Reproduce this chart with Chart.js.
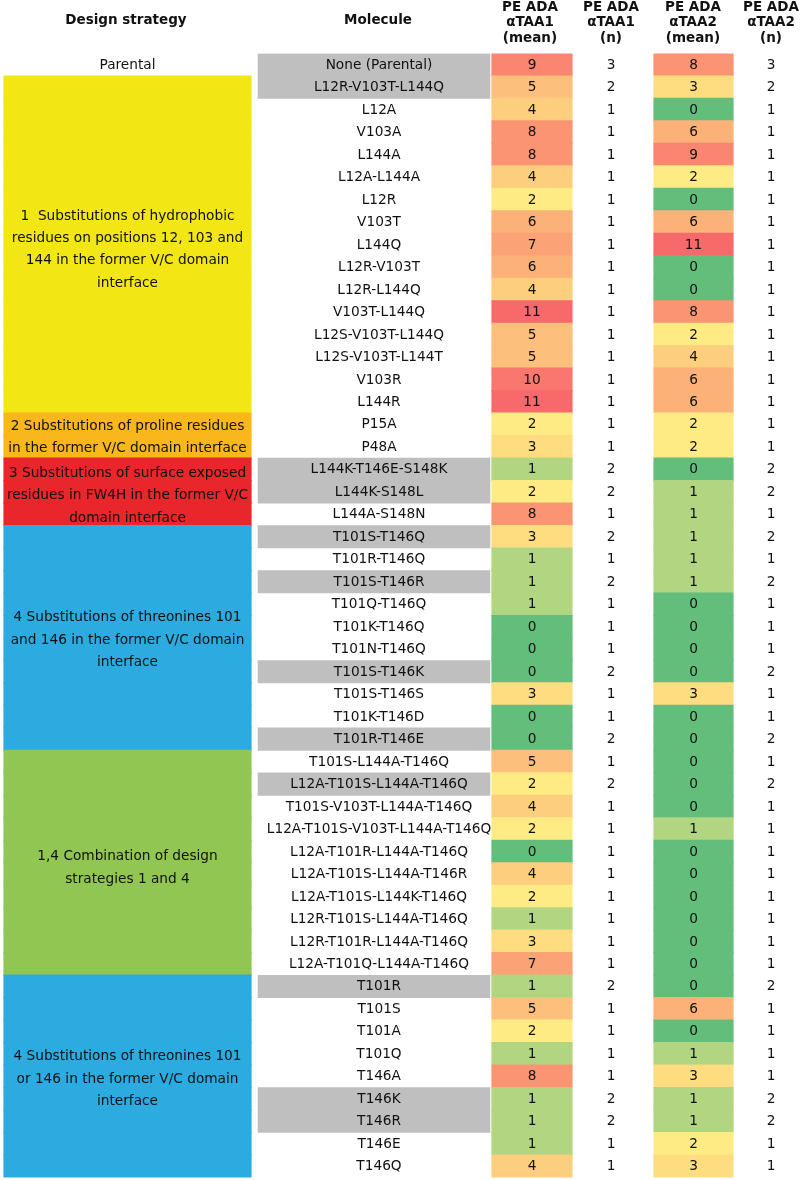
<!DOCTYPE html>
<html>
<head>
<meta charset="utf-8">
<script src="https://cdn.jsdelivr.net/npm/chart.js@4"></script>
<style>
html,body{margin:0;padding:0;background:#fff;}
#wrap{width:800px;height:1180px;position:relative;}
</style>
</head>
<body>
<div id="wrap"><canvas id="c"></canvas></div>
<script>
// ---------- DATA ----------
const molecules = [
  "None (Parental)","L12R-V103T-L144Q","L12A","V103A","L144A","L12A-L144A","L12R","V103T","L144Q","L12R-V103T",
  "L12R-L144Q","V103T-L144Q","L12S-V103T-L144Q","L12S-V103T-L144T","V103R","L144R","P15A","P48A","L144K-T146E-S148K","L144K-S148L",
  "L144A-S148N","T101S-T146Q","T101R-T146Q","T101S-T146R","T101Q-T146Q","T101K-T146Q","T101N-T146Q","T101S-T146K","T101S-T146S","T101K-T146D",
  "T101R-T146E","T101S-L144A-T146Q","L12A-T101S-L144A-T146Q","T101S-V103T-L144A-T146Q","L12A-T101S-V103T-L144A-T146Q","L12A-T101R-L144A-T146Q","L12A-T101S-L144A-T146R","L12A-T101S-L144K-T146Q","L12R-T101S-L144A-T146Q","L12R-T101R-L144A-T146Q",
  "L12A-T101Q-L144A-T146Q","T101R","T101S","T101A","T101Q","T146A","T146K","T146R","T146E","T146Q"
];
const meanTAA1 = [9,5,4,8,8,4,2,6,7,6, 4,11,5,5,10,11,2,3,1,2, 8,3,1,1,1,0,0,0,3,0, 0,5,2,4,2,0,4,2,1,3, 7,1,5,2,1,8,1,1,1,4];
const nTAA1    = [3,2,1,1,1,1,1,1,1,1, 1,1,1,1,1,1,1,1,2,2, 1,2,1,2,1,1,1,2,1,1, 2,1,2,1,1,1,1,1,1,1, 1,2,1,1,1,1,2,2,1,1];
const meanTAA2 = [8,3,0,6,9,2,0,6,11,0, 0,8,2,4,6,6,2,2,0,1, 1,1,1,1,0,0,0,0,3,0, 0,0,0,0,1,0,0,0,0,0, 0,0,6,0,1,3,1,1,2,3];
const nTAA2    = [3,2,1,1,1,1,1,1,1,1, 1,1,1,1,1,1,1,1,2,2, 1,2,1,2,1,1,1,2,1,1, 2,1,2,1,1,1,1,1,1,1, 1,2,1,1,1,1,2,2,1,1];

const strategyLabels = [
  ["Parental"],
  ["1  Substitutions of hydrophobic","residues on positions 12, 103 and","144 in the former V/C domain","interface"],
  ["2 Substitutions of proline residues","in the former V/C domain interface"],
  ["3 Substitutions of surface exposed","residues in FW4H in the former V/C","domain interface"],
  ["4 Substitutions of threonines 101","and 146 in the former V/C domain","interface"],
  ["1,4 Combination of design","strategies 1 and 4"],
  ["4 Substitutions of threonines 101","or 146 in the former V/C domain","interface"]
];
const strategyRowCounts = [1,15,2,3,10,10,9];

const headers = [
  ["Design strategy"],
  ["Molecule"],
  ["PE ADA","αTAA1","(mean)"],
  ["PE ADA","αTAA1","(n)"],
  ["PE ADA","αTAA2","(mean)"],
  ["PE ADA","αTAA2","(n)"]
];

// ---------- LAYOUT / STYLE ----------
const COL = { strat:[4,251], mol:[258,490], molText:379, m1:[492,572], n1:611, m2:[654,733], n2:771 };
const HEAD_X = [126, 378, 530, 611, 693, 771];
const LABEL_DY = [0.5, 5, 2, 4, 2, 5, 3];
const STRAT_COLORS = [null,'#F2E614','#F9B71B','#E8262B','#2CABE0','#91C653','#2CABE0'];
const GREY = '#C0BFC0';
const FONT = '"DejaVu Sans", sans-serif';

function hex(c){return [parseInt(c.slice(1,3),16),parseInt(c.slice(3,5),16),parseInt(c.slice(5,7),16)];}
function mix(a,b,t){const A=hex(a),B=hex(b);return 'rgb('+A.map((v,i)=>Math.round(v+(B[i]-v)*t)).join(',')+')';}
function heat(v){
  const lo=0, mid=2, hi=11;
  if (v<=mid) return mix('#63BE7B','#FFEB84',(v-lo)/(mid-lo));
  return mix('#FFEB84','#F8696B',(v-mid)/(hi-mid));
}

// per-row strategy index
const rowStrategy = [];
strategyRowCounts.forEach((c,g)=>{for(let k=0;k<c;k++) rowStrategy.push(g);});

const span = (r) => molecules.map(() => r.slice());

const tablePlugin = {
  id:'tableText',
  afterDatasetsDraw(chart){
    const {ctx, scales:{x,y}} = chart;
    ctx.save();
    ctx.fillStyle = '#111';
    ctx.textAlign = 'center';
    ctx.textBaseline = 'middle';
    // headers
    ctx.font = 'bold 13.5px ' + FONT;
    headers.forEach((lines,i)=>{
      const cx = x.getPixelForValue(HEAD_X[i]);
      if (lines.length === 1) ctx.fillText(lines[0], cx, 20);
      else lines.forEach((l,k)=>ctx.fillText(l, cx, 7 + k*15.5));
    });
    // body
    ctx.font = '13.7px ' + FONT;
    const xm = x.getPixelForValue(COL.molText);
    const x1 = x.getPixelForValue((COL.m1[0]+COL.m1[1])/2);
    const x2 = x.getPixelForValue((COL.m2[0]+COL.m2[1])/2);
    const xn1 = x.getPixelForValue(COL.n1);
    const xn2 = x.getPixelForValue(COL.n2);
    molecules.forEach((m,i)=>{
      const py = y.getPixelForValue(i) + 0.5;
      ctx.fillText(m, xm, py);
      ctx.fillText(String(meanTAA1[i]), x1, py);
      ctx.fillText(String(nTAA1[i]), xn1, py);
      ctx.fillText(String(meanTAA2[i]), x2, py);
      ctx.fillText(String(nTAA2[i]), xn2, py);
    });
    // strategy labels
    const xs = x.getPixelForValue((COL.strat[0]+COL.strat[1])/2);
    let start = 0;
    strategyRowCounts.forEach((c,g)=>{
      const yc = (y.getPixelForValue(start) + y.getPixelForValue(start+c-1))/2 + LABEL_DY[g];
      const lines = strategyLabels[g];
      lines.forEach((l,k)=>ctx.fillText(l, xs, yc + (k-(lines.length-1)/2)*22.4));
      start += c;
    });
    ctx.restore();
  }
};

const common = { grouped:false, barPercentage:1, categoryPercentage:1, borderWidth:0, borderSkipped:false, inflateAmount:0.6 };

new Chart(document.getElementById('c'), {
  type:'bar',
  data:{
    labels: molecules,
    datasets:[
      Object.assign({ label:'strategy', data: span(COL.strat),
        backgroundColor: rowStrategy.map(g=>STRAT_COLORS[g] || 'rgba(0,0,0,0)') }, common),
      Object.assign({ label:'molecule', data: span(COL.mol),
        backgroundColor: nTAA1.map(n=> n>1 ? GREY : 'rgba(0,0,0,0)') }, common, {inflateAmount:0.3}),
      Object.assign({ label:'meanTAA1', data: span(COL.m1),
        backgroundColor: meanTAA1.map(heat) }, common),
      Object.assign({ label:'meanTAA2', data: span(COL.m2),
        backgroundColor: meanTAA2.map(heat) }, common)
    ]
  },
  options:{
    indexAxis:'y',
    responsive:true,
    maintainAspectRatio:false,
    animation:false,
    layout:{ padding:{ top:53.5, bottom:2.5, left:0, right:0 } },
    plugins:{ legend:{display:false}, tooltip:{enabled:false} },
    scales:{
      x:{ type:'linear', display:false, min:0, max:800 },
      y:{ display:false }
    }
  },
  plugins:[tablePlugin]
});
</script>
</body>
</html>
